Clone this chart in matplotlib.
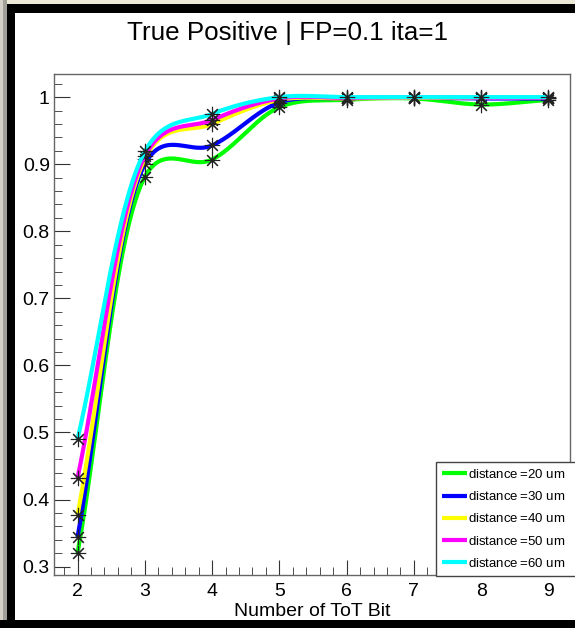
import numpy as np
import matplotlib.pyplot as plt
from matplotlib.patches import Rectangle
from matplotlib.ticker import MultipleLocator

plt.rcParams['font.family'] = ['Liberation Sans', 'DejaVu Sans']

n_bits = [2, 3, 4, 5, 6, 7, 8, 9]
distances = [20, 30, 40, 50, 60]
true_pos = {
    20: [0.320, 0.881, 0.907, 0.985, 0.996, 0.998, 0.989, 0.996],
    30: [0.344, 0.900, 0.928, 0.992, 0.998, 0.999, 0.998, 0.998],
    40: [0.377, 0.908, 0.960, 0.996, 0.998, 0.999, 0.999, 0.999],
    50: [0.432, 0.912, 0.966, 0.998, 0.999, 1.000, 0.999, 0.999],
    60: [0.490, 0.919, 0.975, 1.000, 1.000, 1.000, 1.000, 1.000],
}
colors = ['#00ff00', '#0000ff', '#ffff00', '#ff00ff', '#00ffff']


def catmull_rom(P, alpha=0.25, n=60):
    P = np.vstack([2 * P[0] - P[1], P, 2 * P[-1] - P[-2]])
    out = []
    for i in range(len(P) - 3):
        p0, p1, p2, p3 = P[i:i + 4]
        t0 = 0.0
        t1 = t0 + np.linalg.norm(p1 - p0) ** alpha
        t2 = t1 + np.linalg.norm(p2 - p1) ** alpha
        t3 = t2 + np.linalg.norm(p3 - p2) ** alpha
        t = np.linspace(t1, t2, n)[:, None]
        A1 = (t1 - t) / (t1 - t0) * p0 + (t - t0) / (t1 - t0) * p1
        A2 = (t2 - t) / (t2 - t1) * p1 + (t - t1) / (t2 - t1) * p2
        A3 = (t3 - t) / (t3 - t2) * p2 + (t - t2) / (t3 - t2) * p3
        B1 = (t2 - t) / (t2 - t0) * A1 + (t - t0) / (t2 - t0) * A2
        B2 = (t3 - t) / (t3 - t1) * A2 + (t - t1) / (t3 - t1) * A3
        out.append((t2 - t) / (t2 - t1) * B1 + (t - t1) / (t2 - t1) * B2)
    return np.vstack(out)


def smooth_curve(ax, x, y):
    # smooth the polyline in screen space, like ROOT's "C" draw option
    pts = ax.transData.transform(np.column_stack([x, y]))
    out = ax.transData.inverted().transform(catmull_rom(pts))
    return out[:, 0], out[:, 1]


W, H = 575, 628
fig = plt.figure(figsize=(W / 100, H / 100), dpi=100)

# window frame
frame = [
    (0, 0, W, 4, '#ece9d8'),
    (0, 4, W, 9, '#000000'),
    (0, 0, 3, H, '#d4d0c8'),
    (3, 0, 4, H, '#a0a098'),
    (7, 4, 8, H, '#000000'),
    (0, 620, W, 8, '#000000'),
]
for px, py, pw, ph, c in frame:
    fig.add_artist(Rectangle((px / W, 1 - (py + ph) / H), pw / W, ph / H,
                             transform=fig.transFigure, color=c, lw=0, zorder=-5))

ax = fig.add_axes([54 / W, 1 - 575 / H, (570 - 54) / W, (575 - 74) / H])
ax.set_xlim(1.65, 9.32)
ax.set_ylim(0.2875, 1.0345)

for d, c in zip(distances, colors):
    y = true_pos[d]
    sx, sy = smooth_curve(ax, n_bits, y)
    ax.plot(sx, sy, color=c, lw=3, label=f'distance$\\,$={d} um', solid_capstyle='butt')
    ax.plot(n_bits, y, ls='none', marker=(8, 2, 0), ms=11, mec='#222222', mew=0.8)

ax.xaxis.set_major_locator(MultipleLocator(1))
ax.xaxis.set_minor_locator(MultipleLocator(0.2))
ax.yaxis.set_major_locator(MultipleLocator(0.1))
ax.yaxis.set_minor_locator(MultipleLocator(0.02))
ax.yaxis.set_major_formatter(plt.FuncFormatter(lambda v, p: f'{v:g}'))
ax.tick_params(which='both', direction='in', top=False, right=False, colors='#333333',
               labelcolor='black', labelsize=14)
ax.tick_params(axis='x', which='major', length=11, pad=6)
ax.tick_params(axis='x', which='minor', length=5.5)
ax.tick_params(axis='y', which='major', length=11.5, pad=3)
ax.tick_params(axis='y', which='minor', length=6)
for s in ax.spines.values():
    s.set_color('#666666')
    s.set_linewidth(1)

ax.set_xlabel('Number of ToT Bit', fontsize=14, labelpad=2)
fig.text(0.5, 1 - 33 / H, 'True Positive | FP=0.1 ita=1', fontsize=18.7,
         ha='center', va='center')

leg = fig.legend(loc='upper left', bbox_to_anchor=(436 / W, 1 - 576 / H, 142 / W, 114 / H),
                 mode='expand', fontsize=9.5, handlelength=1.9, handletextpad=0.05,
                 labelspacing=0.7, borderpad=0.45, borderaxespad=0.0, fancybox=False,
                 framealpha=1, edgecolor='#444444')
leg.get_frame().set_linewidth(1)

fig.savefig('out.png', dpi=100)
